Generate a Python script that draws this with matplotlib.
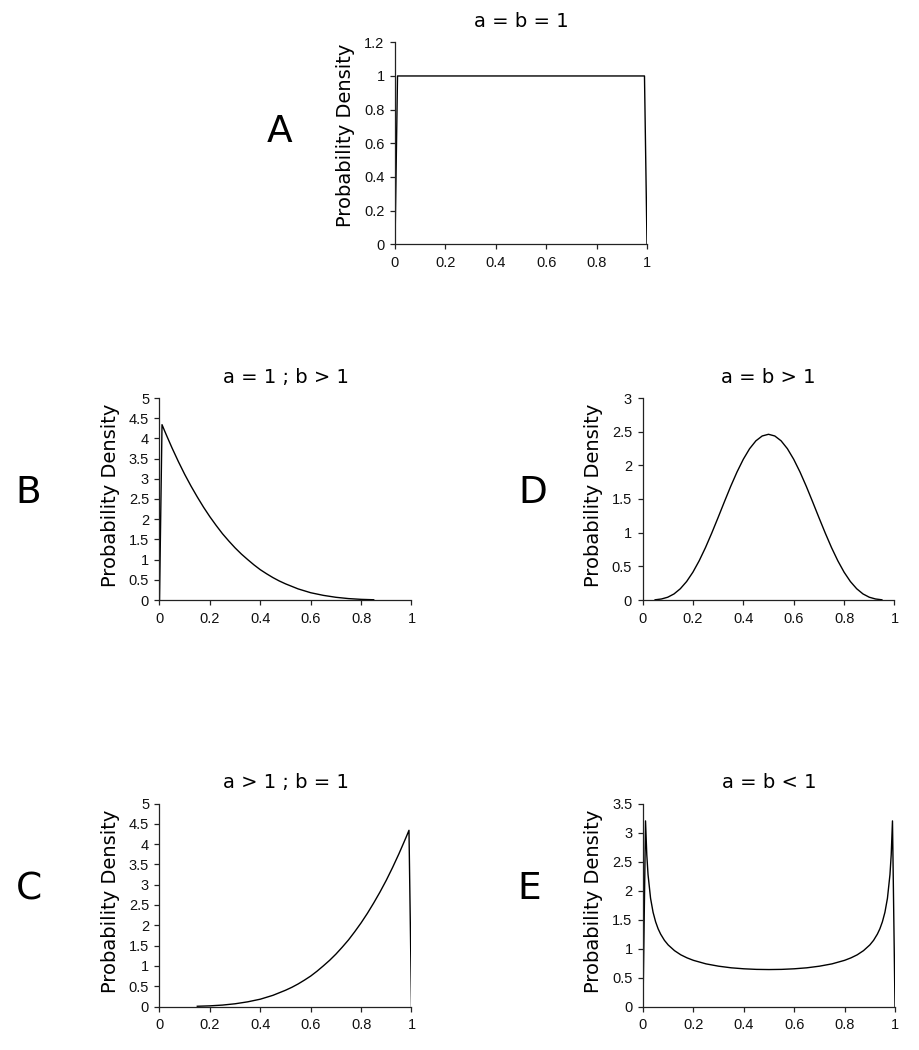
import matplotlib
matplotlib.use("Agg")
import matplotlib.pyplot as plt

# ---- data ----
x_a = [0.0, 0.01, 0.99, 1.0]
y_a = [0.0, 1.0, 1.0, 0.0]

x_b = [0.0, 0.01, 0.02, 0.03, 0.05, 0.075, 0.10, 0.125, 0.15, 0.175, 0.20,
       0.225, 0.25, 0.275, 0.30, 0.325, 0.35, 0.375, 0.40, 0.425, 0.45,
       0.475, 0.50, 0.55, 0.60, 0.65, 0.70, 0.75, 0.80, 0.85]
y_b = [0.0, 4.34, 4.19, 4.045, 3.76, 3.425, 3.11, 2.82, 2.55, 2.295, 2.06,
       1.844, 1.64, 1.46, 1.29, 1.137, 1.00, 0.869, 0.75, 0.649, 0.555,
       0.472, 0.40, 0.275, 0.18, 0.115, 0.067, 0.035, 0.016, 0.006]

x_c = [0.15, 0.20, 0.25, 0.30, 0.35, 0.40, 0.45, 0.50, 0.525, 0.55, 0.575,
       0.60, 0.625, 0.65, 0.675, 0.70, 0.725, 0.75, 0.775, 0.80, 0.825,
       0.85, 0.875, 0.90, 0.925, 0.95, 0.97, 0.98, 0.99, 1.0]
y_c = [0.006, 0.016, 0.035, 0.067, 0.115, 0.18, 0.275, 0.40, 0.472, 0.555,
       0.649, 0.75, 0.869, 1.00, 1.137, 1.29, 1.46, 1.64, 1.844, 2.06, 2.295,
       2.55, 2.82, 3.11, 3.425, 3.76, 4.045, 4.19, 4.34, 0.0]

x_d = [0.05, 0.075, 0.10, 0.125, 0.15, 0.175, 0.20, 0.225, 0.25, 0.275,
       0.30, 0.325, 0.35, 0.375, 0.40, 0.425, 0.45, 0.475, 0.50,
       0.525, 0.55, 0.575, 0.60, 0.625, 0.65, 0.675, 0.70, 0.725, 0.75,
       0.775, 0.80, 0.825, 0.85, 0.875, 0.90, 0.925, 0.95]
y_d = [0.003, 0.015, 0.041, 0.090, 0.167, 0.274, 0.413, 0.583, 0.779, 0.996,
       1.225, 1.459, 1.688, 1.901, 2.09, 2.247, 2.364, 2.436, 2.461,
       2.436, 2.364, 2.247, 2.09, 1.901, 1.688, 1.459, 1.225, 0.996, 0.779,
       0.583, 0.413, 0.274, 0.167, 0.090, 0.041, 0.015, 0.003]

x_e = [0.0, 0.01, 0.015, 0.02, 0.03, 0.04, 0.05, 0.06, 0.07, 0.085, 0.10,
       0.125, 0.15, 0.175, 0.20, 0.25, 0.30, 0.35, 0.40, 0.45, 0.50, 0.55,
       0.60, 0.65, 0.70, 0.75, 0.80, 0.825, 0.85, 0.875, 0.90, 0.915, 0.93,
       0.94, 0.95, 0.96, 0.97, 0.98, 0.985, 0.99, 1.0]
y_e = [0.0, 3.2, 2.619, 2.274, 1.866, 1.624, 1.461, 1.34, 1.248, 1.141, 1.061,
       0.963, 0.891, 0.838, 0.796, 0.735, 0.695, 0.667, 0.650, 0.640, 0.637,
       0.640, 0.650, 0.667, 0.695, 0.735, 0.796, 0.838, 0.891, 0.963, 1.061,
       1.141, 1.248, 1.34, 1.461, 1.624, 1.866, 2.274, 2.619, 3.2, 0.0]

titles = ["a = b = 1", "a = 1 ; b > 1", "a > 1 ; b = 1", "a = b > 1", "a = b < 1"]
letters = ["A", "B", "C", "D", "E"]
x_ticks = [0, 0.2, 0.4, 0.6, 0.8, 1]
x_ticklabels = ["0", "0.2", "0.4", "0.6", "0.8", "1"]
y_ticks_a = [0, 0.2, 0.4, 0.6, 0.8, 1.0, 1.2]
y_ticklabels_a = ["0", "0.2", "0.4", "0.6", "0.8", "1", "1.2"]
y_ticks_5 = [0, 0.5, 1, 1.5, 2, 2.5, 3, 3.5, 4, 4.5, 5]
y_ticklabels_5 = ["0", "0.5", "1", "1.5", "2", "2.5", "3", "3.5", "4", "4.5", "5"]
y_ticks_3 = [0, 0.5, 1, 1.5, 2, 2.5, 3]
y_ticklabels_3 = ["0", "0.5", "1", "1.5", "2", "2.5", "3"]
y_ticks_35 = [0, 0.5, 1, 1.5, 2, 2.5, 3, 3.5]
y_ticklabels_35 = ["0", "0.5", "1", "1.5", "2", "2.5", "3", "3.5"]

W, H = 920, 1050
fig = plt.figure(figsize=(W / 100, H / 100), dpi=100)

def px_axes(x0, y_top, w, h):
    return fig.add_axes([x0 / W, 1 - (y_top + h) / H, w / W, h / H])

panels = [
    # (axes rect px, x, y, title, letter, letter pos, yticks, yticklabels, ymax, ylabel y)
    ((395, 42.3, 252, 202), x_a, y_a, titles[0], letters[0], (280, 132), y_ticks_a, y_ticklabels_a, 1.2, 0.54),
    ((159.5, 398, 252, 202), x_b, y_b, titles[1], letters[1], (28, 493), y_ticks_5, y_ticklabels_5, 5, 0.52),
    ((159.5, 803.5, 252, 203), x_c, y_c, titles[2], letters[2], (29, 889), y_ticks_5, y_ticklabels_5, 5, 0.52),
    ((642.5, 398, 252, 202), x_d, y_d, titles[3], letters[3], (533, 493), y_ticks_3, y_ticklabels_3, 3, 0.52),
    ((643, 803.5, 252, 203), x_e, y_e, titles[4], letters[4], (529, 889), y_ticks_35, y_ticklabels_35, 3.5, 0.52),
]

tick_font = "Liberation Sans"
text_font = "DejaVu Sans"
spine_col = "#222222"

for rect, xs, ys, title, letter, lpos, yt, ytl, ymax, ly in panels:
    ax = px_axes(*rect)
    ax.plot(xs, ys, color="black", linewidth=1.0)
    ax.set_xlim(0, 1)
    ax.set_ylim(0, ymax)
    ax.set_xticks(x_ticks)
    ax.set_xticklabels(x_ticklabels, fontfamily=tick_font, fontsize=10.5)
    ax.set_yticks(yt)
    ax.set_yticklabels(ytl, fontfamily=tick_font, fontsize=10.5)
    for s in ("top", "right"):
        ax.spines[s].set_visible(False)
    for s in ("left", "bottom"):
        ax.spines[s].set_color(spine_col)
        ax.spines[s].set_linewidth(0.9)
    ax.tick_params(direction="out", length=3.5, width=0.9, color=spine_col,
                   labelcolor="#111111")
    ax.tick_params(axis="x", pad=5)
    ax.tick_params(axis="y", pad=4)
    ax.set_ylabel("Probability Density", fontfamily=text_font, fontsize=14)
    ax.yaxis.set_label_coords(-0.158, ly)
    ax.set_title(title, fontfamily=text_font, fontsize=14, pad=11)
    fig.text(lpos[0] / W, 1 - lpos[1] / H, letter, fontfamily=text_font,
             fontsize=27, ha="center", va="center")

fig.savefig("out.png", dpi=100)
